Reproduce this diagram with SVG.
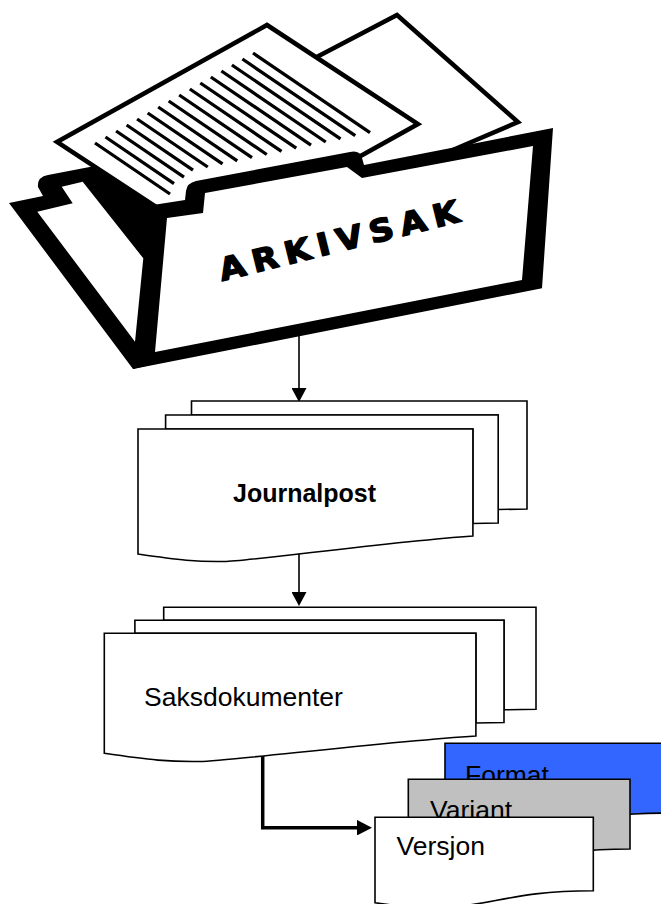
<svg xmlns="http://www.w3.org/2000/svg" width="661" height="904" viewBox="0 0 661 904">
<style>
.doc{fill:#fff;stroke:#000;stroke-width:1.6;stroke-linejoin:miter}
.lbl{font-family:"Liberation Sans",Arial,sans-serif;font-size:26.5px;fill:#000}
.bold{font-weight:bold;font-size:25px}
.blk{fill:#000}
.wht{fill:#fff}
.sheet{fill:#fff;stroke:#000;stroke-width:4.5;stroke-linejoin:miter}
.hatch line{stroke:#000;stroke-width:3.3}
.conn{fill:none;stroke:#000;stroke-width:1.6}
.conn-thick{fill:none;stroke:#000;stroke-width:3.5;stroke-linejoin:miter}
.folder-title{font-family:"DejaVu Sans","Liberation Sans",sans-serif;font-weight:bold;font-size:31px;fill:#000;stroke:#000;stroke-width:1.5;stroke-linejoin:round}
</style>
<defs>
<marker id="arrow" markerUnits="userSpaceOnUse" markerWidth="14" markerHeight="15" viewBox="0 0 14 15" refX="0" refY="7.5" orient="auto">
<path d="M0,0 L14,7.5 L0,15 Z" fill="#000"/>
</marker>
<marker id="arrowThick" markerUnits="userSpaceOnUse" markerWidth="15" markerHeight="15.5" viewBox="0 0 15 15.5" refX="0" refY="7.75" orient="auto">
<path d="M0,0 L15,7.75 L0,15.5 Z" fill="#000"/>
</marker>
</defs>
<rect width="661" height="904" fill="#fff"/>

<g id="connectors">
<path class="conn" d="M299,336 V388" marker-end="url(#arrow)"/>
<path class="conn" d="M299,552 V592" marker-end="url(#arrow)"/>
<path class="conn-thick" d="M262.7,752 V827.7 H357" marker-end="url(#arrowThick)"/>
</g>

<g id="arkivsak">
<path class="blk" d="M9,203 L43,196 L38,187 Q37,177 48,175 L100,165 L160,210 L150,365 L133,369 Z"/>
<path class="wht" d="M37.3,211.7 L72.7,203.3 L61.7,186.7 L82.7,181.7 L143.3,258.3 L135,341.7 Z"/>
<path class="sheet" stroke-width="4" d="M397,15 L518,122 L430,159.7 L340,175 L290,71 Z"/>
<path class="sheet" d="M267,25 L418,124 L208,241 L57,142 Z"/>
<g class="hatch">
<line x1="95" y1="143" x2="170" y2="194"/>
<line x1="105.5" y1="137" x2="174" y2="183.6"/>
<line x1="116.1" y1="131" x2="184" y2="177.2"/>
<line x1="126.6" y1="125" x2="193" y2="170.2"/>
<line x1="137.1" y1="119" x2="207.75" y2="167"/>
<line x1="147.7" y1="113" x2="222.5" y2="163.9"/>
<line x1="158.2" y1="107" x2="237.25" y2="160.8"/>
<line x1="168.7" y1="101" x2="252" y2="157.6"/>
<line x1="179.2" y1="95" x2="266.75" y2="154.5"/>
<line x1="189.8" y1="89" x2="281.5" y2="151.4"/>
<line x1="200.3" y1="83" x2="296.25" y2="148.2"/>
<line x1="210.8" y1="77" x2="311" y2="145.1"/>
<line x1="221.4" y1="71" x2="325.75" y2="142"/>
<line x1="231.9" y1="65" x2="340.5" y2="138.8"/>
<line x1="242.4" y1="59" x2="355.25" y2="135.7"/>
<line x1="253" y1="53" x2="370" y2="132.6"/>
</g>
<path class="blk" d="M153,205 L185,200 L186,191 Q187,183 196,181 L350,152 Q360,150 362,158 L364,165 L553,128 L542,288.3 L133,369 Z"/>
<path class="wht" d="M167,218 L203,213 L205,193 L347,167 L362,178 L533,146 L522,280 L155,352 Z"/>
<text class="folder-title" x="0" y="0" transform="translate(222,281) rotate(-14) scale(1.1,1)" textLength="224" lengthAdjust="spacing">ARKIVSAK</text>
</g>

<g id="journalpost">
<path class="doc" d="M191.5,415 V401 H527 V509 L498.2,509.5 V415 Z"/>
<path class="doc" d="M165.6,429 V415 H498.2 V523 L472.9,523.5 V429 Z"/>
<path class="doc" d="M138,429 H472.9 V536 C386.5,542 251.2,561 224.1,561.5 C197.3,562 179.2,560 138,554 Z"/>
<text class="lbl bold" x="233" y="502">Journalpost</text>
</g>

<g id="saksdokumenter">
<path class="doc" d="M163.7,620.2 V607.3 H536 V709.3 L504,709.8 V620.2 Z"/>
<path class="doc" d="M134.9,633.3 V620.2 H504 V722.5 L475.9,723 V633.3 Z"/>
<path class="doc" d="M104.3,633.3 H475.9 V736 C380,742 229.9,761 199.8,761.5 C170.1,762 150,760 104.3,753.3 Z"/>
<text class="lbl" x="144" y="706">Saksdokumenter</text>
</g>

<g id="format">
<path class="doc" style="fill:#3366ff" d="M445,743.3 H667 V813.1 C556,813.1 556,839.7 445,824.6 Z"/>
<text class="lbl" x="465" y="784">Format</text>
</g>

<g id="variant">
<path class="doc" style="fill:#c0c0c0" d="M408.3,779.3 H630 V849 C519.2,849 519.2,875.5 408.3,860.5 Z"/>
<text class="lbl" x="430" y="819">Variant</text>
</g>

<g id="versjon">
<path class="doc" d="M375,817.3 H593.3 V890.7 C484.2,890.7 484.2,918.6 375,902.8 Z"/>
<text class="lbl" x="396.5" y="855">Versjon</text>
</g>
</svg>
